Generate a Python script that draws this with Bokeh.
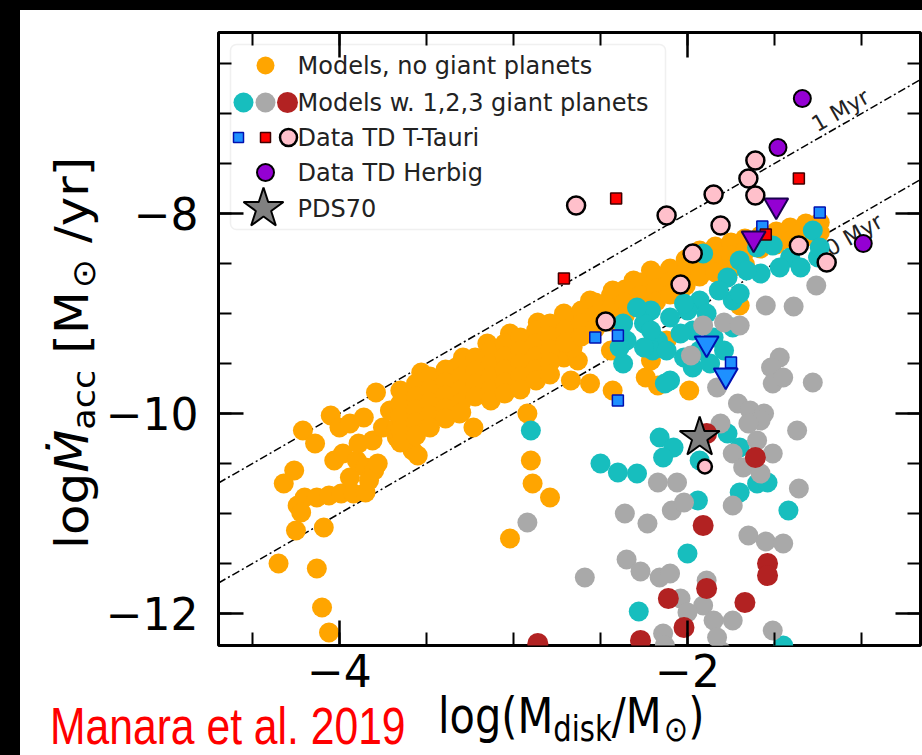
import numpy as np
from bokeh.plotting import figure
from bokeh.models import (Range1d, LinearAxis, SingleIntervalTicker, GridBox, Div,
                          BoxAnnotation, CustomJSTickFormatter)
from bokeh.core.properties import value
from bokeh.embed import file_html
from bokeh.resources import INLINE

# ------------------------------------------------------------------
# Data: log10 disk mass [Msun] vs log10 accretion rate [Msun/yr]
# ------------------------------------------------------------------

# Models without giant planets (orange): scattered points
models_noplanet_x = [
    -4.35, -4.32, -4.26, -4.25, -4.24, -4.20, -4.22, -4.21, -4.14, -4.13,
    -4.10, -4.06, -4.13, -4.09, -4.06, -4.05, -4.03, -4.00, -3.99, -3.98,
    -3.94, -3.94, -3.92, -3.90, -3.89, -3.86, -3.85, -3.85, -3.83, -3.81,
    -3.80, -3.79, -3.78, -3.75, -3.71, -3.67, -3.67, -3.63, -3.60, -3.58,
    -3.56, -3.55, -3.53, -3.52, -3.48, -3.44, -3.37, -3.36, -3.33, -3.31,
    -3.29, -3.25, -3.23, -3.21, -3.15, -3.12, -3.06, -3.02, -2.94, -2.92,
    -2.90, -2.89, -2.79, -3.02, -2.86, -2.83, -2.71, -2.67, -2.71, -2.63,
    -2.67, -2.56, -2.56, -2.43, -2.43, -2.31, -2.21, -2.44, -2.24, -2.17,
    -1.99, -2.21, -2.12, -2.66, -1.70,
]
models_noplanet_y = [
    -11.50, -10.70, -10.57, -11.17, -10.92, -10.84, -10.99, -10.17, -10.30, -11.55,
    -11.94, -12.19, -10.84, -11.14, -10.82, -10.02, -10.47, -10.14, -10.80, -10.40,
    -10.10, -10.64, -10.80, -10.47, -10.30, -10.04, -10.79, -10.54, -10.67, -10.27,
    -10.57, -9.79, -10.50, -10.14, -9.97, -10.14, -10.24, -9.84, -10.27, -10.37,
    -10.07, -10.42, -9.59, -9.80, -9.64, -9.90, -9.74, -9.57, -9.54, -10.00,
    -9.44, -9.67, -10.14, -9.57, -9.30, -9.54, -9.37, -9.20, -9.30, -10.00,
    -10.47, -10.70, -10.84, -11.25, -9.09, -9.37, -9.00, -9.20, -9.44, -9.47,
    -9.67, -9.70, -8.87, -8.77, -9.77, -8.67, -8.57, -9.37, -9.64, -9.72,
    -9.77, -9.47, -9.27, -9.34, -8.92,
]

# Models without giant planets (orange): the dense main sequence
models_band_x = [
    -3.65, -3.65, -3.65, -3.65, -3.65,
    -3.56, -3.56, -3.56, -3.56, -3.56,
    -3.48, -3.48, -3.48, -3.48, -3.48,
    -3.39, -3.39, -3.39, -3.39, -3.39,
    -3.30, -3.30, -3.30, -3.30, -3.30,
    -3.22, -3.22, -3.22, -3.22,
    -3.13, -3.13, -3.13, -3.13, -3.13,
    -3.05, -3.05, -3.05, -3.05, -3.05,
    -2.96, -2.96, -2.96, -2.96, -2.96,
    -2.87, -2.87, -2.87, -2.87, -2.87,
    -2.79, -2.79, -2.79, -2.79, -2.79,
    -2.70, -2.70, -2.70,
    -2.61, -2.61, -2.61,
    -2.53, -2.53, -2.53,
    -2.44, -2.44, -2.44,
    -2.36, -2.36, -2.36,
    -2.27, -2.27, -2.27,
    -2.18, -2.18, -2.18,
    -2.10, -2.10, -2.10,
    -2.01, -2.01, -2.01,
    -1.93, -1.93, -1.93,
    -1.84, -1.84, -1.84,
    -1.75, -1.75, -1.75,
    -1.67, -1.67, -1.67,
    -1.58, -1.58,
    -1.49, -1.49,
    -1.41, -1.41,
    -1.32, -1.32,
    -1.24, -1.24,
]
models_band_y = [
    -9.77, -9.90, -10.03, -10.16, -10.29,
    -9.70, -9.83, -9.96, -10.09, -10.22,
    -9.63, -9.76, -9.89, -10.02, -10.14,
    -9.56, -9.69, -9.82, -9.95, -10.05,
    -9.50, -9.63, -9.76, -9.89, -9.99,
    -9.44, -9.57, -9.70, -9.83,
    -9.37, -9.50, -9.63, -9.76, -9.87,
    -9.30, -9.43, -9.56, -9.69, -9.80,
    -9.24, -9.37, -9.50, -9.63, -9.76,
    -9.17, -9.30, -9.43, -9.56, -9.67,
    -9.10, -9.23, -9.36, -9.49, -9.61,
    -9.03, -9.16, -9.29,
    -8.97, -9.10, -9.23,
    -8.89, -9.02, -9.15,
    -8.82, -8.95, -9.08,
    -8.76, -8.89, -9.02,
    -8.69, -8.82, -8.95,
    -8.62, -8.75, -8.88,
    -8.55, -8.68, -8.81,
    -8.46, -8.59, -8.72,
    -8.37, -8.50, -8.63,
    -8.33, -8.46, -8.59,
    -8.29, -8.42, -8.55,
    -8.25, -8.38, -8.51,
    -8.22, -8.35,
    -8.18, -8.31,
    -8.14, -8.27,
    -8.10, -8.23,
    -8.09, -8.19,
]

# Models with 1 giant planet (cyan)
models_1p_x = [
    -1.91, -1.77, -1.70, -1.74, -1.58, -1.51, -1.41, -1.35, -1.28, -1.25,
    -1.47, -1.66, -1.82, -1.93, -2.00, -1.89, -1.97, -1.85, -2.04, -2.10,
    -2.21, -2.25, -2.17, -2.20, -2.12, -2.02, -1.97, -1.87, -1.79, -2.37,
    -2.35, -2.10, -2.37, -2.16, -1.77, -2.13, -2.21, -2.08, -2.14, -2.50,
    -2.40, -2.29, -1.93, -1.70, -1.70, -1.60, -1.54, -1.94, -1.42, -2.00,
    -2.28, -1.45, -2.90, -1.60, -1.70, -1.74, -1.93, -1.24, -2.25, -2.02,
    -2.29, -2.39,
]
models_1p_y = [
    -8.40, -8.64, -8.47, -8.87, -8.60, -8.32, -8.44, -8.54, -8.17, -8.44,
    -8.54, -8.57, -8.77, -8.87, -8.97, -9.00, -9.17, -9.24, -9.20, -9.04,
    -8.97, -9.10, -9.27, -9.37, -9.37, -9.44, -9.54, -9.50, -9.37, -9.10,
    -9.27, -9.67, -9.50, -10.24, -10.20, -9.70, -9.17, -10.34, -10.44, -10.50,
    -10.59, -10.60, -10.47, -10.34, -10.79, -10.70, -10.69, -10.87, -10.97, -11.40,
    -11.98, -12.32, -10.17, -8.34, -8.80, -9.14, -9.37, -8.34, -9.34, -8.90,
    -8.94, -9.34,
]

# Models with 2 giant planets (grey)
models_2p_x = [
    -1.26, -1.55, -1.39, -1.91, -1.79, -1.70, -1.47, -1.98, -1.83, -1.71,
    -1.64, -1.56, -1.52, -1.51, -1.45, -1.28, -1.81, -1.37, -1.60, -1.74,
    -1.51, -1.68, -1.58, -2.17, -2.06, -1.36, -2.36, -2.23, -2.09, -2.02,
    -1.74, -1.65, -1.55, -1.45, -2.35, -2.27, -2.16, -2.10, -2.04, -2.59,
    -1.91, -1.85, -1.74, -2.14, -1.83, -1.51, -2.92, -1.89, -2.13, -1.81,
    -2.00, -1.58, -1.65,
]
models_2p_y = [
    -8.72, -8.92, -8.93, -9.12, -9.09, -9.12, -9.44, -9.42, -9.74, -9.90,
    -9.97, -10.00, -9.54, -9.70, -9.64, -9.69, -10.10, -10.17, -10.27, -10.40,
    -10.40, -10.54, -10.60, -10.69, -10.69, -10.75, -11.00, -11.10, -10.97, -10.89,
    -10.92, -11.22, -11.28, -11.30, -11.46, -11.58, -11.64, -11.60, -11.85, -11.64,
    -11.92, -12.07, -12.07, -12.20, -12.24, -12.17, -11.09, -11.67, -12.32, -12.37,
    -11.99, -10.07, -10.10,
]

# Models with 3 giant planets (dark red)
models_3p_x = [-1.61, -1.91, -1.54, -1.54, -1.89, -2.11, -1.67, -2.02, -2.27, -2.86, -1.89]
models_3p_y = [-10.44, -11.12, -11.50, -11.62, -11.75, -11.85, -11.89, -12.14, -12.27, -12.30, -10.20]

# Transition discs around T Tauri stars
ttauri_circ_x = [-2.64, -2.47, -2.12, -2.04, -1.97, -1.85, -1.81, -1.65, -1.61, -1.61, -1.36, -1.20]
ttauri_circ_y = [-7.92, -9.08, -8.02, -8.71, -8.40, -7.81, -8.12, -7.65, -7.47, -7.82, -8.32, -8.49]
ttauri_low_x = [-1.90]
ttauri_low_y = [-10.53]
ttauri_red_x = [-2.41, -1.36, -2.71, -1.55]
ttauri_red_y = [-7.85, -7.65, -8.65, -8.21]
ttauri_blue_x = [-2.53, -2.40, -2.40, -1.24, -1.75, -1.57]
ttauri_blue_y = [-9.24, -9.22, -9.87, -7.99, -9.49, -8.13]
ttauri_ul_x = [-1.89, -1.78]
ttauri_ul_y = [-9.30, -9.62]

# Transition discs around Herbig stars
herbig_x = [-1.34, -1.48, -0.99]
herbig_y = [-6.85, -7.34, -8.30]
herbig_ul_x = [-1.49, -1.62]
herbig_ul_y = [-7.92, -8.25]

# PDS 70
pds70_x = [-1.93]
pds70_y = [-10.24]

# Constant disc lifetime lines, log10(t / yr)
lifetime_log_yr = [6, 7]
lifetime_text = ["1 Myr", "10 Myr"]

legend_labels = ["Models, no giant planets", "Models w. 1,2,3 giant planets",
                 "Data TD T-Tauri", "Data TD Herbig", "PDS70"]

# ------------------------------------------------------------------
# Main figure
# ------------------------------------------------------------------
FONT = "DejaVu Sans"
W, H = 922, 755
X_RANGE = (-4.695, -0.661)
Y_RANGE = (-12.32, -6.19)
FRAME_W, FRAME_H = 702, 613

ORANGE = "#ffa500"
CYAN = "#17bebe"
GREY = "#a9a9a9"
DARKRED = "#b22222"
PINK = "#ffc0cb"
VIOLET = "#9400d3"
BLUE = "#1e90ff"

p = figure(width=W, height=H,
           x_range=Range1d(*X_RANGE), y_range=Range1d(*Y_RANGE),
           output_backend="svg", toolbar_location=None,
           min_border_left=218, min_border_right=2,
           min_border_top=32, min_border_bottom=110,
           background_fill_color="white", border_fill_color="white")
p.grid.visible = False
p.outline_line_color = "black"
p.outline_line_width = 3
p.outline_line_alpha = 1.0

# pixel-like helper ranges measured from the frame's top-left corner
p.extra_x_ranges = {"px": Range1d(0, FRAME_W)}
p.extra_y_ranges = {"py": Range1d(FRAME_H, 0)}


def style_axis(ax):
    ax.axis_line_color = None
    ax.major_tick_in = 25
    ax.major_tick_out = 0
    ax.minor_tick_in = 13
    ax.minor_tick_out = 0
    ax.major_tick_line_color = "black"
    ax.major_tick_line_width = 2.5
    ax.minor_tick_line_color = "black"
    ax.minor_tick_line_width = 2
    ax.major_label_text_font = FONT
    ax.major_label_text_font_size = "44px"
    ax.major_label_text_color = "black"


xa = p.xaxis[0]
xa.ticker = SingleIntervalTicker(interval=2, num_minor_ticks=4)
style_axis(xa)
xa.major_label_standoff = 8
xa.major_label_overrides = {-4: "\u22124", -2: "\u22122"}

ya = p.yaxis[0]
ya.ticker = SingleIntervalTicker(interval=2, num_minor_ticks=4)
style_axis(ya)
ya.major_label_standoff = 20
ya.major_label_overrides = {-8: "\u22128", -10: "\u221210", -12: "\u221212"}

blank = CustomJSTickFormatter(code="return ''")
for loc in ("above", "right"):
    ax = LinearAxis(ticker=SingleIntervalTicker(interval=2, num_minor_ticks=4),
                    formatter=blank)
    style_axis(ax)
    ax.major_label_text_font_size = "0px"
    ax.major_label_standoff = 0
    p.add_layout(ax, loc)

# legend frame (under the data)
p.add_layout(BoxAnnotation(left=12, right=447, top=12, bottom=197,
                           x_range_name="px", y_range_name="py",
                           fill_color=None, line_color="#cccccc", line_width=1.5,
                           border_radius=6, level="underlay"))

# constant-lifetime lines: Mdot = Mdisk / t
line_x = np.array(X_RANGE)
for age in lifetime_log_yr:
    p.line(line_x, line_x - age, line_color="black", line_width=1.5,
           line_dash="8 3 2 3")

slope_angle = np.arctan((FRAME_H / (Y_RANGE[1] - Y_RANGE[0])) /
                        (FRAME_W / (X_RANGE[1] - X_RANGE[0])))
p.text(x=[-1.121, -1.08], y=[-6.97, -8.25], text=lifetime_text,
       angle=slope_angle, text_align="center", text_baseline="middle",
       text_font=value(FONT), text_font_size="22px", text_color="#222222")

# models
p.scatter(models_noplanet_x, models_noplanet_y, size=20, fill_color=ORANGE, line_color=None)
p.scatter(models_band_x, models_band_y, size=20, fill_color=ORANGE, line_color=None)
p.scatter(models_1p_x, models_1p_y, size=20, fill_color=CYAN, line_color=None)
p.scatter(models_2p_x, models_2p_y, size=20, fill_color=GREY, line_color=None)
p.scatter(models_3p_x, models_3p_y, size=21, fill_color=DARKRED, line_color=None)

# observed transition discs
p.scatter(ttauri_blue_x, ttauri_blue_y, marker="square", size=11,
          fill_color=BLUE, line_color="#0010b0", line_width=1.5)
p.scatter(ttauri_red_x, ttauri_red_y, marker="square", size=11,
          fill_color="red", line_color="#400000", line_width=1.5)
p.scatter(ttauri_ul_x, ttauri_ul_y, marker="inverted_triangle", size=24,
          fill_color=BLUE, line_color="#0010b0", line_width=2)
p.scatter(herbig_ul_x, herbig_ul_y, marker="inverted_triangle", size=24,
          fill_color=VIOLET, line_color="#1a0050", line_width=2)
p.scatter(ttauri_circ_x, ttauri_circ_y, size=18, fill_color=PINK,
          line_color="black", line_width=2.5)
p.scatter(herbig_x, herbig_y, size=17, fill_color=VIOLET,
          line_color="black", line_width=2)
p.scatter(pds70_x, pds70_y, marker="star", size=42, fill_color="#808080",
          line_color="black", line_width=2)
p.scatter(ttauri_low_x, ttauri_low_y, size=14, fill_color=PINK,
          line_color="black", line_width=2.5)

# legend swatches and entries
px_kw = dict(x_range_name="px", y_range_name="py")
p.scatter([47], [33], size=18, fill_color=ORANGE, line_color=None, **px_kw)
p.scatter([25], [70], size=20, fill_color=CYAN, line_color=None, **px_kw)
p.scatter([47], [70], size=20, fill_color=GREY, line_color=None, **px_kw)
p.scatter([69], [70], size=21, fill_color=DARKRED, line_color=None, **px_kw)
p.scatter([20], [105], marker="square", size=10, fill_color=BLUE,
          line_color="#0010b0", line_width=1.5, **px_kw)
p.scatter([47], [105], marker="square", size=10, fill_color="red",
          line_color="#400000", line_width=1.5, **px_kw)
p.scatter([70], [105], size=17, fill_color=PINK, line_color="black",
          line_width=2.5, **px_kw)
p.scatter([47], [140], size=17, fill_color=VIOLET, line_color="black",
          line_width=2, **px_kw)
p.scatter([45], [176], marker="star", size=42, fill_color="#808080",
          line_color="black", line_width=2, **px_kw)
p.text(x=[79] * 5, y=[33, 70, 105, 140, 176], text=legend_labels,
       text_align="left", text_baseline="middle", text_font=value(FONT),
       text_font_size="24px", text_color="#222222", **px_kw)

# ------------------------------------------------------------------
# Axis titles and caption as HTML laid over the figure (page pixels)
# ------------------------------------------------------------------
SUB = "font-size:0.7em;position:relative;top:0.22em;"

x_title = (
    "<div style='position:absolute;left:438px;top:691px;font-size:50px;"
    "line-height:1;white-space:nowrap;transform-origin:0 0;transform:scaleX(0.83);"
    "font-family:\"DejaVu Sans\";color:#000'>"
    f"log(M<span style='{SUB}'>disk</span>/M<span style='{SUB}margin-left:0.08em'>&#8857;</span>)"
    "</div>"
)
y_title = (
    "<div style='position:absolute;left:49px;top:549px;font-size:50px;"
    "line-height:1;white-space:nowrap;transform-origin:0 0;"
    "transform:rotate(-90deg) scaleY(0.92);font-family:\"DejaVu Sans\";color:#000'>"
    f"log<span style='font-style:italic'>&#7744;</span><span style='{SUB}'>acc</span>"
    f"&nbsp;[M<span style='{SUB}margin-left:0.08em'>&#8857;</span>&nbsp;/yr]"
    "</div>"
)
caption = (
    "<div style='position:absolute;left:50px;top:706px;font-size:52px;"
    "line-height:0.8;white-space:nowrap;transform-origin:0 0;transform:scaleX(0.82);"
    "font-family:\"Liberation Sans\";color:#ff0000'>Manara et al. 2019</div>"
)
page_edges = (
    "<div style='position:absolute;left:0;top:0;width:20px;height:755px;background:#000'></div>"
    "<div style='position:absolute;left:0;top:0;width:922px;height:10px;background:#000'></div>"
)
overlay = Div(
    text=(f"<div style='position:relative;width:{W}px;height:{H}px;margin:0;padding:0'>"
          + page_edges + x_title + y_title + caption + "</div>"),
    width=W, height=H, styles={"margin": "0", "padding": "0"})

layout = GridBox(children=[(p, 0, 0), (overlay, 0, 0)])
open("out.html", "w").write(file_html(layout, INLINE, title="Mdisk vs Macc"))
